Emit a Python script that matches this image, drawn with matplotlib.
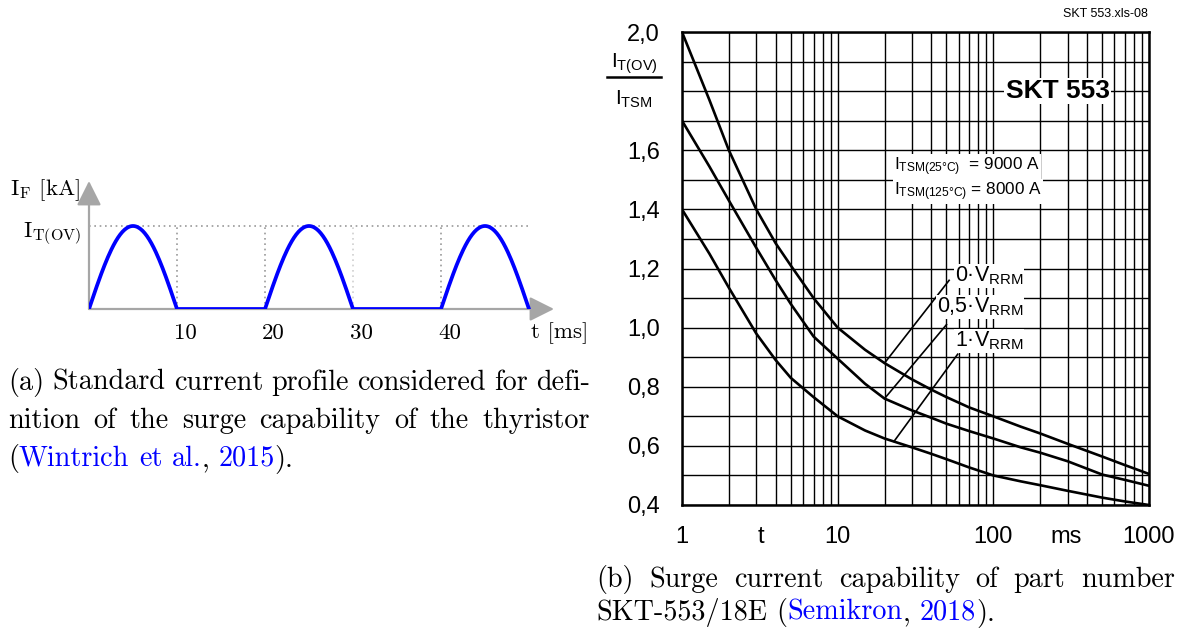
import numpy as np
import matplotlib
matplotlib.use("Agg")
import matplotlib.pyplot as plt
from matplotlib.lines import Line2D
from matplotlib.patches import ArrowStyle
from matplotlib.ticker import LogLocator, FixedLocator, NullFormatter

plt.rcParams["mathtext.default"] = "regular"

W, H, DPI = 1179, 628, 100

# ---------------- (a) standard current profile ----------------
pulse_starts_ms = [0, 20, 40]
pulse_width_ms = 10
profile_end_ms = 50
profile_peak = 1.0
profile_ticks = [10, 20, 30, 40]
guide_ticks = [10, 20, 30, 40]

# ---------------- (b) surge current capability ----------------
t_ms = [1, 1.5, 2, 3, 4, 5, 7, 10, 15, 20, 30, 40, 50, 70, 100, 150, 200, 300, 500, 700, 1000]
ratio_0v = [2.00, 1.77, 1.60, 1.40, 1.285, 1.21, 1.10, 1.00, 0.925, 0.88, 0.825, 0.79,
            0.765, 0.73, 0.70, 0.665, 0.642, 0.607, 0.564, 0.535, 0.505]
ratio_05v = [1.70, 1.545, 1.43, 1.27, 1.16, 1.08, 0.97, 0.895, 0.81, 0.76, 0.72, 0.695,
             0.675, 0.65, 0.625, 0.595, 0.577, 0.548, 0.503, 0.485, 0.465]
ratio_1v = [1.40, 1.25, 1.135, 0.98, 0.89, 0.83, 0.765, 0.70, 0.652, 0.625, 0.595, 0.573,
            0.555, 0.527, 0.50, 0.48, 0.467, 0.448, 0.425, 0.412, 0.40]
curve_labels = ["0·$\\mathregular{V_{RRM}}$", "0,5·$\\mathregular{V_{RRM}}$", "1·$\\mathregular{V_{RRM}}$"]
y_tick_vals = [0.4, 0.6, 0.8, 1.0, 1.2, 1.4, 1.6, 1.8, 2.0]
y_tick_labels = ["0,4", "0,6", "0,8", "1,0", "1,2", "1,4", "1,6", "", "2,0"]
x_tick_vals = [1, 3.2, 10, 100, 292, 1000]
x_tick_labels = ["1", "t", "10", "100", "ms", "1000"]

caption_a = ["(a) Standard current profile considered for defi-",
             "nition of the surge capability of the thyristor",
             "({Wintrich et al.}, {2015})."]
caption_b = ["(b) Surge current capability of part number",
             "SKT-553/18E ({Semikron}, {2018})."]

SERIF = "cmr10"
SANS = "Liberation Sans"
LINK = "#0000ff"
GRAY = "#a6a6a6"

fig = plt.figure(figsize=(W / DPI, H / DPI), dpi=DPI)
renderer = fig.canvas.get_renderer()


def fx(px):
    return px / W


def fy(py):
    return 1 - py / H


# ======================= panel (a) =======================
px_per_ms = 8.8
px_per_unit = 83.0
ax_a = fig.add_axes([fx(89), fy(309), 470 / W, 129 / H])
ax_a.set_xlim(0, 470 / px_per_ms)
ax_a.set_ylim(0, 129 / px_per_unit)
ax_a.axis("off")

head = ArrowStyle("-|>", head_length=1.0, head_width=0.5)
ax_a.annotate("", xy=((554 - 89) / px_per_ms, 0), xytext=(0, 0),
              arrowprops=dict(arrowstyle=head, color=GRAY, lw=1.6,
                              mutation_scale=15, shrinkA=0, shrinkB=0))
ax_a.annotate("", xy=(0, (309 - 181) / px_per_unit), xytext=(0, 0),
              arrowprops=dict(arrowstyle=head, color=GRAY, lw=1.6,
                              mutation_scale=15, shrinkA=0, shrinkB=0))

ax_a.plot([0, profile_end_ms], [profile_peak, profile_peak], color="#999999",
          lw=1.2, ls=(0, (1, 2.2)))
for g in guide_ticks:
    ax_a.plot([g, g], [0, profile_peak], color="#999999" if g != 30 else "#d0d0d0",
              lw=1.2, ls=(0, (1, 2.2)))

# half-sine pulses joined by zero-current intervals
t_prof, i_prof = [], []
for s in pulse_starts_ms:
    tt = np.linspace(s, s + pulse_width_ms, 80)
    t_prof.append(tt)
    i_prof.append(profile_peak * np.sin(np.pi * (tt - s) / pulse_width_ms))
t_prof = np.concatenate(t_prof)
i_prof = np.concatenate(i_prof)
ax_a.plot(t_prof, i_prof, color="#0000ff", lw=2.7, solid_capstyle="round",
          solid_joinstyle="round", zorder=5)

for tk in profile_ticks:
    ax_a.text(tk - 3 / px_per_ms, (309 - 333) / px_per_unit, str(tk), ha="left",
              va="center", family=SERIF, fontsize=16.5)
fig.text(fx(531), fy(333), "t [ms]", ha="left", va="center", family=SERIF, fontsize=16.5)
fig.text(fx(10), fy(190), "$\\mathregular{I_F}$ [kA]", ha="left", va="center",
         family=SERIF, fontsize=16.5)
fig.text(fx(81), fy(234), "$\\mathregular{I_{T(OV)}}$", ha="right", va="center",
         family=SERIF, fontsize=16.5)

# ======================= panel (b) =======================
ax_b = fig.add_axes([fx(682), fy(505), 467 / W, 473 / H])
ax_b.set_xscale("log")
ax_b.set_xlim(1, 1000)
ax_b.set_ylim(0.4, 2.0)
ax_b.xaxis.set_minor_locator(LogLocator(base=10, subs=np.arange(1, 10), numticks=100))
ax_b.yaxis.set_minor_locator(FixedLocator(np.round(np.arange(0.4, 2.001, 0.1), 2)))
ax_b.xaxis.remove_overlapping_locs = False
ax_b.yaxis.remove_overlapping_locs = False
ax_b.set_xticks(x_tick_vals, x_tick_labels)
ax_b.set_yticks(y_tick_vals, y_tick_labels)
ax_b.xaxis.set_minor_formatter(NullFormatter())
ax_b.grid(True, which="minor", color="black", lw=1.0)
ax_b.tick_params(which="both", length=0)
ax_b.tick_params(axis="x", pad=15, labelsize=17)
ax_b.tick_params(axis="y", pad=16, labelsize=17)
for lab in ax_b.get_xticklabels() + ax_b.get_yticklabels():
    lab.set_family(SANS)
for sp in ax_b.spines.values():
    sp.set_linewidth(1.8)
    sp.set_zorder(6)

for series in (ratio_0v, ratio_05v, ratio_1v):
    ax_b.plot(t_ms, series, color="black", lw=1.9, zorder=4,
              solid_joinstyle="round")

white = dict(facecolor="white", edgecolor="none", pad=1.0)
ax_b.text(560, 1.80, "SKT 553", ha="right", va="center", family=SANS,
          fontweight="bold", fontsize=19, bbox=white, zorder=5)
ax_b.text(23, 1.545, "$\\mathregular{I_{TSM(25°C)}}$  = 9000 A", ha="left", va="center",
          family=SANS, fontsize=12.3, bbox=white, zorder=5)
ax_b.text(23, 1.46, "$\\mathregular{I_{TSM(125°C)}}$ = 8000 A", ha="left", va="center",
          family=SANS, fontsize=12.3, bbox=white, zorder=5)

# curve labels with leader lines
label_pos = [(56.7, 1.175), (43.5, 1.07), (56.7, 0.955)]
leader_start = [(t_ms[9], ratio_0v[9]), (t_ms[9], ratio_05v[9]), (23, 0.615)]
leader_end = [(52, 1.16), (50, 1.01), (59, 0.91)]
for lab, pos, p0, p1 in zip(curve_labels, label_pos, leader_start, leader_end):
    ax_b.plot([p0[0], p1[0]], [p0[1], p1[1]], color="black", lw=1.2, zorder=4)
    ax_b.text(pos[0], pos[1], lab, ha="left", va="center", family=SANS,
              fontsize=15.5, bbox=dict(facecolor="white", edgecolor="none", pad=0.5),
              zorder=5)

# y-axis quantity written as a fraction
fig.text(fx(634), fy(64), "$\\mathregular{I_{T(OV)}}$", ha="center", va="center",
         family=SANS, fontsize=15)
fig.add_artist(Line2D([fx(607), fx(661)], [fy(77), fy(77)], color="black", lw=1.8))
fig.text(fx(634), fy(99), "$\\mathregular{I_{TSM}}$", ha="center", va="center",
         family=SANS, fontsize=15)
fig.text(fx(1148), fy(14), "SKT 553.xls-08", ha="right", va="center",
         family=SANS, fontsize=9)


# ======================= captions =======================
def ink_width(s, size):
    t = fig.text(0, 0, s, family=SERIF, fontsize=size)
    w = t.get_window_extent(renderer).width
    t.remove()
    return w


def caption_tokens(line):
    """Split a caption line into (start index, text, is_link) word pieces."""
    plain, tokens, link, buf, start = "", [], False, "", 0
    for ch in line:
        if ch in "{} ":
            if buf:
                tokens.append((start, buf, link))
                buf = ""
            if ch == " ":
                plain += ch
            else:
                link = ch == "{"
            continue
        if not buf:
            start = len(plain)
        buf += ch
        plain += ch
    if buf:
        tokens.append((start, buf, link))
    return plain, tokens


def draw_caption_line(line, x0, baseline, size, right=None):
    plain, tokens = caption_tokens(line)
    n_space = plain.count(" ")
    extra = 0.0
    if right is not None and n_space:
        extra = (right - x0 - ink_width(plain, size)) / n_space
    for start, piece, link in tokens:
        if start == 0:
            x = x0
        else:
            x = x0 + ink_width(plain[:start] + piece, size) - ink_width(piece, size)
        x += extra * plain[:start].count(" ")
        fig.text(fx(x), fy(baseline), piece, ha="left", va="baseline", family=SERIF,
                 fontsize=size, color=LINK if link else "black")


CAP = 20.3
draw_caption_line(caption_a[0], 8, 390, CAP, right=590)
draw_caption_line(caption_a[1], 8, 428, CAP, right=590)
draw_caption_line(caption_a[2], 8, 466, CAP)
draw_caption_line(caption_b[0], 596, 587, CAP, right=1175)
draw_caption_line(caption_b[1], 596, 620, CAP)

fig.savefig("out.png", dpi=DPI)
